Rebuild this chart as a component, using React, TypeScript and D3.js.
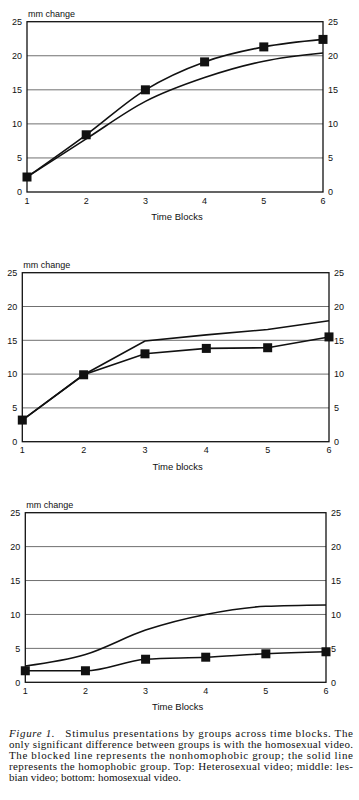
import React from "react";
import * as d3 from "d3";

const timeBlocks = [1, 2, 3, 4, 5, 6];
const yTicks = [0, 5, 10, 15, 20, 25];
const gridTicks = [5, 10, 15, 20];

const topBlocked = [2.2, 8.4, 15.0, 19.1, 21.3, 22.4];
const topSolid = [2.2, 7.8, 13.3, 16.8, 19.2, 20.4];
const midBlocked = [3.2, 9.9, 13.0, 13.8, 13.9, 15.5];
const midSolid = [3.2, 9.9, 14.9, 15.8, 16.6, 17.9];
const botBlocked = [1.7, 1.7, 3.4, 3.7, 4.2, 4.5];
const botSolid = [2.4, 4.1, 7.7, 10.0, 11.2, 11.4];

const xTitles = ["Time Blocks", "Time blocks", "Time Blocks"];
const yTitle = "mm change";

const captionLines = [
  "Stimulus presentations by groups across time blocks. The",
  "only significant difference between groups is with the homosexual video.",
  "The blocked line represents the nonhomophobic group; the solid line",
  "represents the homophobic group. Top: Heterosexual video; middle: les-",
  "bian video; bottom: homosexual video.",
];

const panels = [
  { left: 27, right: 323, top: 21.7, bottom: 192, blocked: topBlocked, solid: topSolid, curve: d3.curveMonotoneX, title: xTitles[0] },
  { left: 22.3, right: 329, top: 272.7, bottom: 441.7, blocked: midBlocked, solid: midSolid, curve: d3.curveLinear, title: xTitles[1] },
  { left: 25.3, right: 326, top: 512.7, bottom: 682.3, blocked: botBlocked, solid: botSolid, curve: d3.curveMonotoneX, title: xTitles[2] },
];

const sans = "'Liberation Sans', Arial, sans-serif";
const serif = "'Liberation Serif', 'Times New Roman', serif";

function Panel({ p }: { p: any }) {
  const x = d3.scaleLinear().domain([1, 6]).range([p.left, p.right]);
  const y = d3.scaleLinear().domain([0, 25]).range([p.bottom, p.top]);
  const line = d3
    .line<number>()
    .x((_, i) => x(timeBlocks[i]))
    .y((v) => y(v))
    .curve(p.curve);
  const ms = 9;
  return (
    <g>
      {gridTicks.map((t) => (
        <line key={t} x1={p.left} x2={p.right} y1={y(t)} y2={y(t)} stroke="#707070" strokeWidth={1} />
      ))}
      <rect x={p.left} y={p.top} width={p.right - p.left} height={p.bottom - p.top} fill="none" stroke="#111" strokeWidth={1.3} />
      {yTicks.map((t) => (
        <g key={t}>
          <text x={p.left - 5} y={y(t) + 3.2} textAnchor="end" fontFamily={sans} fontSize={9} fill="#111">{t}</text>
          <text x={p.right + 5} y={y(t) + 3.2} textAnchor="start" fontFamily={sans} fontSize={9} fill="#111">{t}</text>
        </g>
      ))}
      {timeBlocks.map((t) => (
        <text key={t} x={x(t)} y={p.bottom + 11.5} textAnchor="middle" fontFamily={sans} fontSize={9} fill="#111">{t}</text>
      ))}
      <text x={p.left + 1} y={p.top - 5} fontFamily={sans} fontSize={9} fill="#111">{yTitle}</text>
      <text x={(p.left + p.right) / 2 + 2} y={p.bottom + 28} textAnchor="middle" fontFamily={sans} fontSize={9.5} fill="#111">{p.title}</text>
      <path d={line(p.solid) || ""} fill="none" stroke="#111" strokeWidth={1.6} />
      <path d={line(p.blocked) || ""} fill="none" stroke="#111" strokeWidth={1.6} />
      {p.blocked.map((v: number, i: number) => (
        <rect key={i} x={x(timeBlocks[i]) - ms / 2} y={y(v) - ms / 2} width={ms} height={ms} fill="#111" />
      ))}
    </g>
  );
}

export default function App() {
  const capLeft = 9;
  const capWidth = 344;
  const capBase = 736.5;
  const capStep = 11.1;
  return (
    <svg width={359} height={800} style={{ position: "absolute", left: 0, top: 0, background: "#fff" }}>
      <rect x={0} y={0} width={359} height={800} fill="#fff" />
      {panels.map((p, i) => (
        <Panel key={i} p={p} />
      ))}
      {captionLines.map((l, i) => {
        const justify = i < captionLines.length - 1;
        if (i === 0) {
          return (
            <text key={i} x={capLeft} y={capBase} fontFamily={serif} fontSize={11} fill="#111" textLength={capWidth} lengthAdjust="spacing">
              <tspan fontStyle="italic">Figure 1.</tspan>
              <tspan>{"\u00a0\u00a0 " + l}</tspan>
            </text>
          );
        }
        return (
          <text key={i} x={capLeft} y={capBase + i * capStep} fontFamily={serif} fontSize={11} fill="#111" {...(justify ? { textLength: capWidth, lengthAdjust: "spacing" } : {})}>
            {l}
          </text>
        );
      })}
    </svg>
  );
}
